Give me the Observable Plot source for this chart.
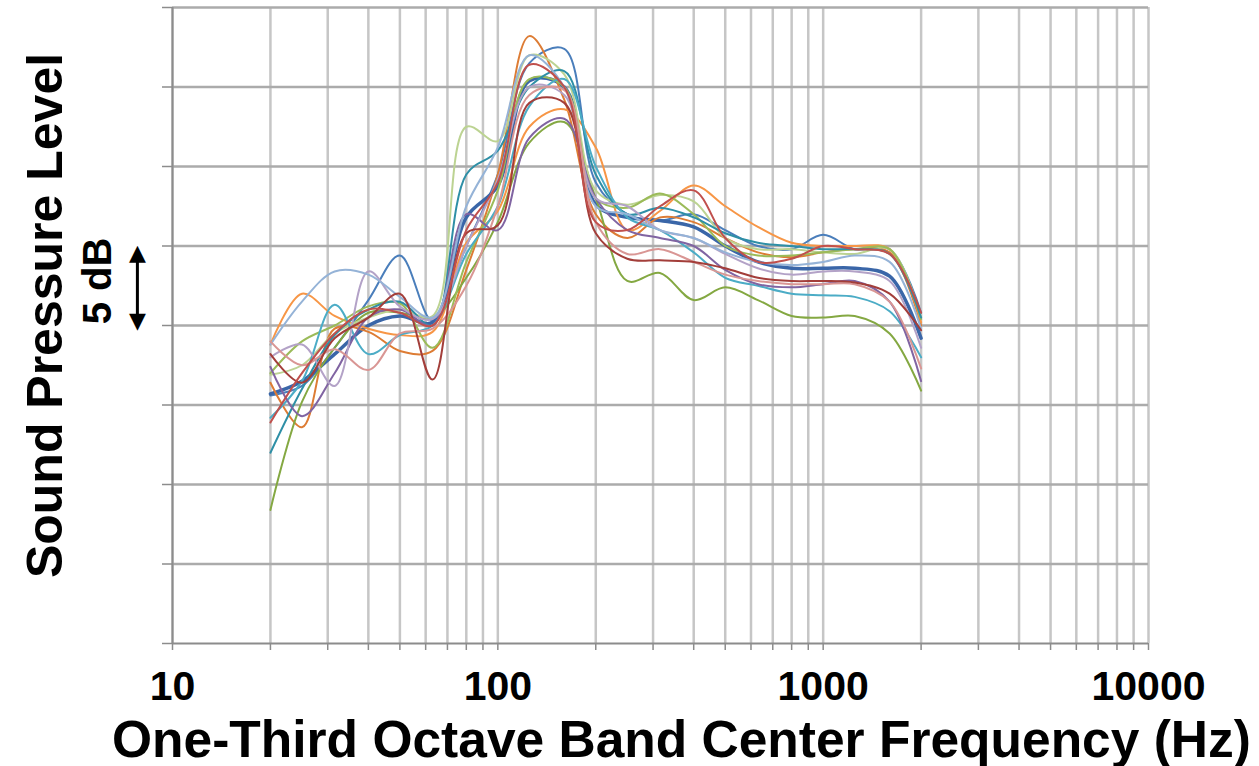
<!DOCTYPE html>
<html>
<head>
<meta charset="utf-8">
<script src="https://cdn.jsdelivr.net/npm/d3@7"></script>
<script src="https://cdn.jsdelivr.net/npm/@observablehq/plot@0.6"></script>
<style>
  html, body { margin: 0; padding: 0; background: #ffffff; }
  #chart svg { display: block; }
</style>
</head>
<body>
<div id="chart"></div>
<script>
// One-third octave band centre frequencies (Hz)
const freq = [20, 25, 31.5, 40, 50, 63, 80, 100, 125, 160, 200, 250, 315, 400, 500, 630, 800, 1000, 1250, 1600, 2000];

// Relative sound pressure level (dB, arbitrary reference) for each measurement
const seriesNames = ["blue", "darkBlue", "darkOrange", "orange", "oliveGreen", "lightGreen", "green", "teal", "aqua", "purple", "lightPurple", "lightBlue", "pink", "darkRed", "red"];
const blue        = [15.6, 16.2, 18.6, 21.6, 24.4, 20.3, 25.0, 29.5, 36.5, 37.4, 29.0, 27.0, 26.6, 27.0, 26.0, 25.0, 24.8, 25.7, 24.8, 24.8, 20.8];
const darkBlue    = [15.7, 16.5, 18.2, 20.0, 20.6, 20.2, 26.8, 28.8, 35.4, 35.0, 27.6, 26.8, 26.6, 26.2, 25.0, 24.0, 23.6, 23.6, 23.6, 23.1, 19.2];
const darkOrange  = [16.4, 13.6, 19.8, 19.6, 18.4, 18.4, 23.5, 29.5, 38.2, 34.2, 27.0, 25.5, 26.8, 26.5, 25.5, 24.6, 24.3, 24.6, 24.8, 24.6, 20.0];
const orange      = [18.8, 22.0, 20.6, 19.8, 19.4, 19.6, 25.2, 27.2, 32.5, 33.6, 31.2, 26.0, 27.2, 28.8, 27.5, 26.2, 25.2, 25.0, 25.0, 24.8, 20.2];
const oliveGreen  = [8.4, 15.2, 18.6, 20.8, 20.8, 20.5, 23.0, 26.5, 31.5, 32.8, 28.0, 22.8, 23.3, 21.6, 22.4, 21.6, 20.6, 20.5, 20.6, 19.5, 15.9];
const lightGreen  = [16.9, 17.5, 19.5, 20.5, 21.0, 20.6, 32.5, 31.6, 37.0, 35.8, 28.5, 27.6, 28.2, 27.8, 25.5, 24.8, 24.8, 24.6, 24.5, 24.8, 20.5];
const green       = [17.0, 19.0, 20.0, 21.2, 21.4, 18.6, 24.0, 28.5, 35.5, 35.0, 28.0, 27.4, 28.3, 27.0, 25.0, 24.4, 24.4, 24.6, 24.8, 24.8, 20.4];
const teal        = [12.0, 16.0, 19.4, 21.0, 21.5, 20.0, 29.5, 31.0, 35.0, 36.0, 29.5, 27.0, 27.4, 26.8, 25.8, 25.2, 25.0, 24.8, 24.8, 24.5, 20.5];
const aqua        = [14.2, 16.5, 21.3, 18.2, 19.4, 20.0, 24.5, 27.5, 33.8, 35.5, 30.0, 26.8, 26.0, 24.6, 23.0, 22.5, 22.0, 21.9, 21.8, 20.9, 18.0];
const purple      = [17.4, 14.3, 17.0, 20.5, 21.0, 20.0, 27.0, 26.0, 31.8, 33.0, 28.0, 26.0, 25.5, 25.0, 23.5, 22.6, 22.4, 22.6, 22.8, 21.5, 16.5];
const lightPurple = [18.0, 18.8, 16.2, 23.4, 21.2, 20.4, 25.0, 29.2, 35.0, 34.5, 28.0, 27.5, 26.0, 25.5, 24.5, 23.6, 23.2, 23.4, 23.4, 22.8, 18.6];
const lightBlue   = [18.8, 21.5, 23.4, 23.2, 21.8, 20.5, 27.5, 31.2, 37.0, 35.0, 27.5, 27.0, 26.0, 25.5, 24.6, 24.0, 23.8, 24.0, 24.4, 24.0, 19.8];
const pink        = [19.0, 17.5, 18.5, 17.2, 19.5, 19.8, 22.5, 27.5, 34.5, 34.8, 26.5, 24.5, 24.8, 24.0, 23.2, 22.8, 22.6, 22.6, 22.6, 21.5, 17.3];
const darkRed     = [18.2, 16.4, 19.2, 20.5, 22.0, 16.6, 25.8, 26.3, 34.0, 34.0, 25.8, 24.2, 24.1, 24.0, 23.6, 23.0, 22.8, 22.8, 22.7, 22.0, 19.7];
const red         = [13.9, 17.0, 19.5, 21.0, 20.8, 20.0, 26.0, 29.0, 36.4, 35.0, 26.5, 26.0, 27.5, 28.5, 25.5, 24.0, 24.2, 25.0, 24.8, 24.5, 20.8];

const seriesColors = ["#4a7ebb", "#3a66a8", "#dd7c34", "#f79646", "#84a842", "#bcd392", "#9bbb59", "#2e8fa6", "#4bacc6", "#8064a2", "#b3a2c7", "#95b3d7", "#d99694", "#a33e3a", "#c0504d"];
const seriesWidths = [2, 3.5, 2, 2, 2, 2, 2, 2, 2, 2, 2, 2, 2, 2, 2];

// Axis ticks
const majorTicks = [10, 100, 1000, 10000];
const minorTicks = [10,20,30,40,50,60,70,80,90,100,200,300,400,500,600,700,800,900,1000,2000,3000,4000,5000,6000,7000,8000,9000,10000];
const yTicks = [0, 5, 10, 15, 20, 25, 30, 35, 40];

const xTitle = "One-Third Octave Band Center Frequency (Hz)";
const yTitle = "Sound Pressure Level";
const scaleNote = "5 dB";
const scaleArrowFreq = 7.8;     // annotation placed left of the frame
const scaleArrowRange = [20, 25]; // the arrow spans 5 dB

const allSeries = [blue, darkBlue, darkOrange, orange, oliveGreen, lightGreen, green, teal, aqua, purple, lightPurple, lightBlue, pink, darkRed, red];
const rows = allSeries.flatMap((vals, i) => vals.map((v, j) => ({f: freq[j], v, s: seriesNames[i]})));

const font = "'Liberation Sans', Arial, sans-serif";

const lineMarks = seriesNames.map((name, i) =>
  Plot.line(rows.filter(d => d.s === name), {
    x: "f", y: "v", stroke: seriesColors[i], strokeWidth: seriesWidths[i],
    curve: "catmull-rom", strokeLinejoin: "round", strokeLinecap: "round"
  })
);

const chart = Plot.plot({
  width: 1259,
  height: 766,
  marginLeft: 172,
  marginRight: 111,
  marginTop: 7,
  marginBottom: 123,
  style: {fontFamily: font, background: "#ffffff", overflow: "visible"},
  x: {type: "log", domain: [10, 10000]},
  y: {domain: [0, 40]},
  marks: [
    Plot.gridX(minorTicks, {stroke: "#c6c6c6", strokeWidth: 2.5, strokeOpacity: 1}),
    Plot.gridY(yTicks.slice(1), {stroke: "#ababab", strokeWidth: 2.5, strokeOpacity: 1}),
    Plot.axisX(minorTicks, {tickSize: 7, tickFormat: () => "", stroke: "#8c8c8c", strokeWidth: 1.5, label: null}),
    Plot.axisX(majorTicks, {tickSize: 0, tickPadding: 27, tickFormat: d => String(d), fontSize: 41, fontWeight: "bold", fill: "#000", label: null}),
    Plot.axisY(yTicks, {tickSize: 10, tickFormat: () => "", stroke: "#8c8c8c", strokeWidth: 1.5, label: null}),
    Plot.ruleY([0], {stroke: "#8c8c8c", strokeWidth: 2}),
    Plot.ruleX([10], {stroke: "#8c8c8c", strokeWidth: 2}),
    ...lineMarks,
    Plot.text([xTitle], {frameAnchor: "bottom", textAnchor: "middle", dx: 21, dy: 97, fontSize: 51.5, fontWeight: "bold", fill: "#000", lineAnchor: "middle"}),
    Plot.text([yTitle], {frameAnchor: "left", textAnchor: "middle", dx: -127, dy: -10, rotate: -90, fontSize: 50, fontWeight: "bold", fill: "#000", lineAnchor: "middle"}),
    Plot.text([scaleNote], {frameAnchor: "left", textAnchor: "middle", y: [22.8], dx: -74, rotate: -90, fontSize: 40, fontWeight: "bold", fill: "#000", lineAnchor: "middle"}),
    Plot.ruleX([scaleArrowFreq], {y1: scaleArrowRange[0] + 0.6, y2: scaleArrowRange[1] - 0.6, stroke: "#000", strokeWidth: 3, clip: false}),
    Plot.text(["▲"], {x: [scaleArrowFreq], y: [scaleArrowRange[1]], lineAnchor: "top", fontSize: 22, fill: "#000", fontFamily: "DejaVu Sans", dy: -2}),
    Plot.text(["▼"], {x: [scaleArrowFreq], y: [scaleArrowRange[0]], lineAnchor: "bottom", fontSize: 22, fill: "#000", fontFamily: "DejaVu Sans", dy: 2})
  ]
});

document.getElementById("chart").appendChild(chart);
</script>
</body>
</html>
